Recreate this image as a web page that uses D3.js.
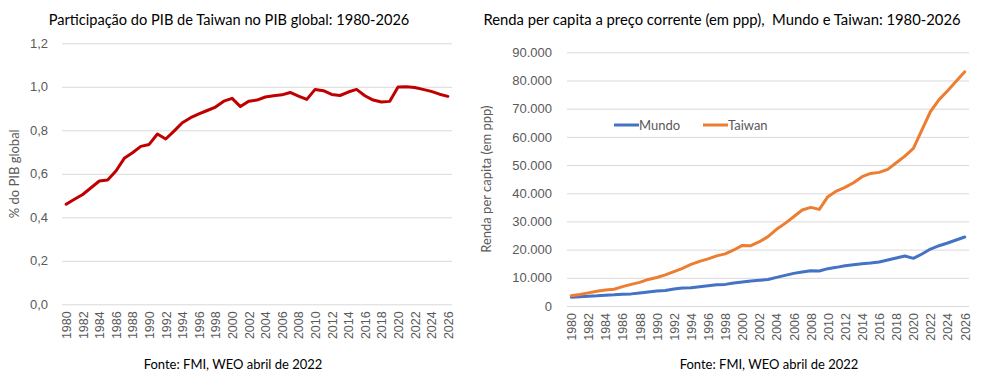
<!DOCTYPE html>
<html>
<head>
<meta charset="utf-8">
<script src="https://cdn.jsdelivr.net/npm/d3@7"></script>
<style>
  html, body { margin: 0; padding: 0; background: #fff; }
  svg { display: block; font-family: Lato, "Open Sans", sans-serif; }
</style>
</head>
<body>
<svg id="chart" width="982" height="380"></svg>
<script>
// ---------- DATA ----------
const years = d3.range(1980, 2027);
const xTickYears = d3.range(1980, 2027, 2);

const taiwanShare = [
  0.46, 0.483, 0.505, 0.536, 0.567, 0.571, 0.613, 0.671, 0.697, 0.726,
  0.735, 0.783, 0.760, 0.796, 0.835, 0.858, 0.875, 0.891, 0.907, 0.934,
  0.947, 0.909, 0.934, 0.939, 0.953, 0.959, 0.963, 0.974, 0.957, 0.942,
  0.988, 0.982, 0.965, 0.960, 0.976, 0.988, 0.959, 0.939, 0.930, 0.933,
  0.999, 1.000, 0.997, 0.988, 0.979, 0.966, 0.956
];

const mundo = [
  3100, 3250, 3450, 3600, 3840, 3950, 4190, 4300, 4650, 5000,
  5350, 5470, 6050, 6400, 6510, 6860, 7210, 7560, 7670, 8140,
  8490, 8840, 9100, 9400, 10170, 10870, 11580, 12060, 12530, 12410,
  13240, 13710, 14300, 14660, 15010, 15250, 15600, 16310, 17020, 17730,
  16900, 18440, 20210, 21390, 22340, 23400, 24470
];

const taiwan = [
  3650, 4070, 4650, 5230, 5700, 5930, 6860, 7670, 8370, 9420,
  10120, 11050, 12200, 13370, 14770, 15810, 16740, 17790, 18490, 19880,
  21500, 21400, 22800, 24600, 27190, 29310, 31680, 34040, 34990, 34280,
  38770, 40780, 42080, 43740, 45860, 47040, 47400, 48460, 50830, 53190,
  55900, 62500, 69000, 73200, 76350, 79760, 83100
];

const leftYTicks = [0, 0.2, 0.4, 0.6, 0.8, 1.0, 1.2];
const rightYTicks = [0, 10000, 20000, 30000, 40000, 50000, 60000, 70000, 80000, 90000];

const leftTitle = "Participação do PIB de Taiwan no PIB global: 1980-2026";
const rightTitle = "Renda per capita a preço corrente (em ppp),  Mundo e Taiwan: 1980-2026";
const leftYLabel = "% do PIB global";
const rightYLabel = "Renda per capita (em ppp)";
const sourceText = "Fonte: FMI, WEO abril de 2022";
const seriesNames = ["Mundo", "Taiwan"];

// ---------- SETUP ----------
const locale = d3.formatLocale({decimal: ",", thousands: ".", grouping: [3], currency: ["", ""]});
const fmt1 = locale.format(",.1f");
const fmt0 = locale.format(",.0f");

const svg = d3.select("#chart");
const gridColor = "#D9D9D9";
const tickColor = "#595959";

function drawPanel(opts) {
  const g = svg.append("g");
  const x = d3.scalePoint().domain(years).range([opts.x0, opts.x1]).padding(0.5);
  const y = d3.scaleLinear().domain(opts.yDomain).range([opts.yBottom, opts.yTop]);

  // gridlines + y tick labels
  const yAxis = d3.axisLeft(y).tickValues(opts.yTicks).tickFormat(opts.fmt)
    .tickSize(-(opts.x1 - opts.x0)).tickPadding(opts.yPad);
  const ya = g.append("g").attr("transform", `translate(${opts.x0},0)`).call(yAxis);
  ya.select(".domain").remove();
  ya.selectAll(".tick line").attr("stroke", gridColor).attr("stroke-width", 1);
  ya.selectAll(".tick text").attr("fill", tickColor).style("font-size", "13px");

  // x axis labels
  const xAxis = d3.axisBottom(x).tickValues(xTickYears).tickSize(0).tickPadding(0);
  const xa = g.append("g").attr("transform", `translate(0,${opts.yBottom})`).call(xAxis);
  xa.select(".domain").remove();
  xa.selectAll(".tick text")
    .attr("fill", tickColor).style("font-size", "12.5px")
    .attr("text-anchor", "end")
    .attr("transform", "rotate(-90)")
    .attr("x", -7).attr("y", 0).attr("dy", "0.35em");

  // y title
  g.append("text")
    .attr("transform", `translate(${opts.yLabelX},${(opts.yTop + opts.yBottom) / 2}) rotate(-90)`)
    .attr("text-anchor", "middle").attr("dy", "0.35em")
    .attr("fill", tickColor).style("font-size", "13px")
    .text(opts.yLabel);

  // title
  g.append("text").attr("x", opts.titleX).attr("y", 25).attr("text-anchor", "middle")
    .attr("fill", "#000").style("font-size", opts.titleSize)
    .style("white-space", "pre").attr("xml:space", "preserve")
    .text(opts.title);

  // source
  g.append("text").attr("x", opts.srcX).attr("y", 369).attr("text-anchor", "middle")
    .attr("fill", "#000").style("font-size", "13px").text(sourceText);

  // lines
  opts.series.forEach(s => {
    const line = d3.line().x((d, i) => x(years[i])).y(d => y(d));
    g.append("path").datum(s.values)
      .attr("fill", "none").attr("stroke", s.color).attr("stroke-width", 3)
      .attr("stroke-linejoin", "round").attr("stroke-linecap", "round")
      .attr("d", line);
  });
  return g;
}

drawPanel({
  x0: 62, x1: 452, yTop: 43.3, yBottom: 304.3, yDomain: [0, 1.2],
  yTicks: leftYTicks, fmt: fmt1, yPad: 14, yLabelX: 14,
  yLabel: leftYLabel, title: leftTitle, titleX: 229, titleSize: "14.6px", srcX: 233,
  series: [{values: taiwanShare, color: "#C00000"}]
});

drawPanel({
  x0: 567, x1: 969, yTop: 52.3, yBottom: 306, yDomain: [0, 90000],
  yTicks: rightYTicks, fmt: fmt0, yPad: 15, yLabelX: 486,
  yLabel: rightYLabel, title: rightTitle, titleX: 722, titleSize: "14.8px", srcX: 769,
  series: [{values: mundo, color: "#4472C4"}, {values: taiwan, color: "#ED7D31"}]
});

// legend
const legendItems = [
  {name: seriesNames[0], color: "#4472C4", x: 614},
  {name: seriesNames[1], color: "#ED7D31", x: 703}
];
const lg = svg.append("g");
legendItems.forEach(it => {
  lg.append("line").attr("x1", it.x).attr("x2", it.x + 25).attr("y1", 125).attr("y2", 125)
    .attr("stroke", it.color).attr("stroke-width", 3);
  lg.append("text").attr("x", it.x + 25).attr("y", 125).attr("dy", "0.35em")
    .attr("fill", tickColor).style("font-size", "13px").text(it.name);
});
</script>
</body>
</html>
